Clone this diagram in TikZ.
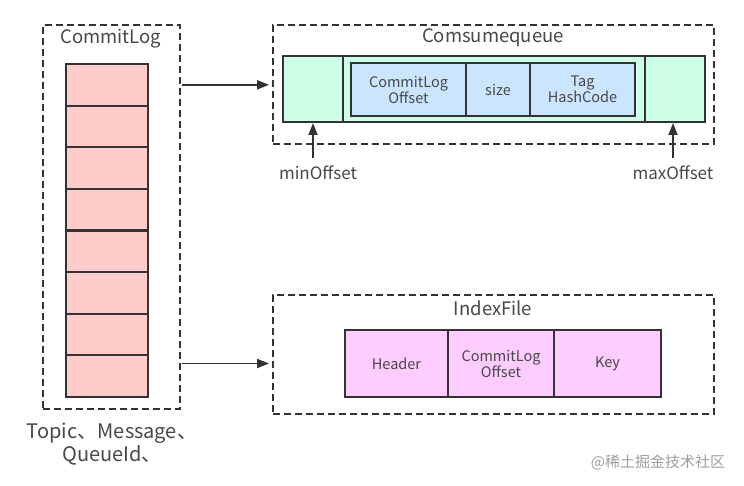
\documentclass[tikz,border=0pt]{standalone}
\usepackage{fontspec}
\setmainfont{Noto Sans CJK SC}
\usetikzlibrary{arrows.meta}
\definecolor{ink}{HTML}{333333}
\definecolor{redf}{HTML}{FFCCCC}
\definecolor{greenf}{HTML}{CCFFE6}
\definecolor{bluef}{HTML}{CCE5FF}
\definecolor{pinkf}{HTML}{FFCCFF}
\tikzset{
  frame/.style={draw=ink, line width=1.8pt, dash pattern=on 7pt off 4pt, minimum width=#1, inner sep=0pt},
  cell/.style={draw=ink, line width=2pt, inner sep=0pt, font=\fontsize{14.5}{16}\selectfont, text=ink!90, align=center},
  title/.style={font=\fontsize{18.5}{20}\selectfont, text=ink!90},
  lbl/.style={font=\fontsize{20}{23}\selectfont, text=ink!90, align=center},
  arr/.style={draw=ink, line width=1.8pt, -{Triangle[length=12pt,width=9pt]}},
}
\begin{document}
\begin{tikzpicture}[x=1pt,y=-1pt]
\useasboundingbox (0,0) rectangle (744,486);
% CommitLog
\node[frame=137pt, minimum height=384pt] (cl) at (111.5,217) {};
\node[title] (cltitle) at (111,39) {CommitLog};
\foreach \i in {1,...,8}{
  \node[cell, fill=redf, minimum width=82pt, minimum height=41.6pt] (row\i) at (107,{64+41.625*(\i-0.5)}) {};
}
\node[lbl] (cllbl) at (112,444) {Topic、Message、\\QueueId、};
% Comsumequeue
\node[frame=441pt, minimum height=119pt] (cq) at (493.5,84.5) {};
\node[title] (cqtitle) at (493,38) {Comsumequeue};
\node[cell, fill=greenf, minimum width=60pt, minimum height=66pt] (q1) at (313,89) {};
\node[cell, fill=greenf, minimum width=302pt, minimum height=66pt] (q2) at (494,89) {};
\node[cell, fill=greenf, minimum width=60pt, minimum height=66pt] (q3) at (675,89) {};
\node[cell, fill=bluef, minimum width=115pt, minimum height=53pt] (b1) at (408.5,89.5) {CommitLog\\Offset};
\node[cell, fill=bluef, minimum width=64pt, minimum height=53pt] (b2) at (498,89.5) {size};
\node[cell, fill=bluef, minimum width=105pt, minimum height=53pt] (b3) at (582.5,89.5) {Tag\\HashCode};
\node[lbl, font=\fontsize{17}{19}\selectfont] (minl) at (318,173) {minOffset};
\node[lbl, font=\fontsize{17}{19}\selectfont] (maxl) at (673,173) {maxOffset};
\draw[arr] (q1.south |- 0,158) -- (q1.south);
\draw[arr] (maxl.north |- 0,158) -- (maxl.north |- q3.south);
% IndexFile
\node[frame=441pt, minimum height=119pt] (ix) at (493.5,354.5) {};
\node[title] (ixtitle) at (493,308) {IndexFile};
\node[cell, fill=pinkf, minimum width=103pt, minimum height=67pt] (p1) at (396.5,363.5) {Header};
\node[cell, fill=pinkf, minimum width=106pt, minimum height=67pt] (p2) at (501,363.5) {CommitLog\\Offset};
\node[cell, fill=pinkf, minimum width=107pt, minimum height=67pt] (p3) at (607.5,363.5) {Key};
% connectors
\draw[arr, shorten <=1.5pt, shorten >=3pt] (cl.east |- row1) -- (cq.west |- row1);
\draw[arr, shorten <=1.5pt, shorten >=3pt] (cl.east |- p2) -- (ix.west |- p2);
% watermark
\node[font=\fontsize{15}{17}\selectfont, text=black!38] (wm) at (658,462) {@稀土掘金技术社区};
\end{tikzpicture}
\end{document}
